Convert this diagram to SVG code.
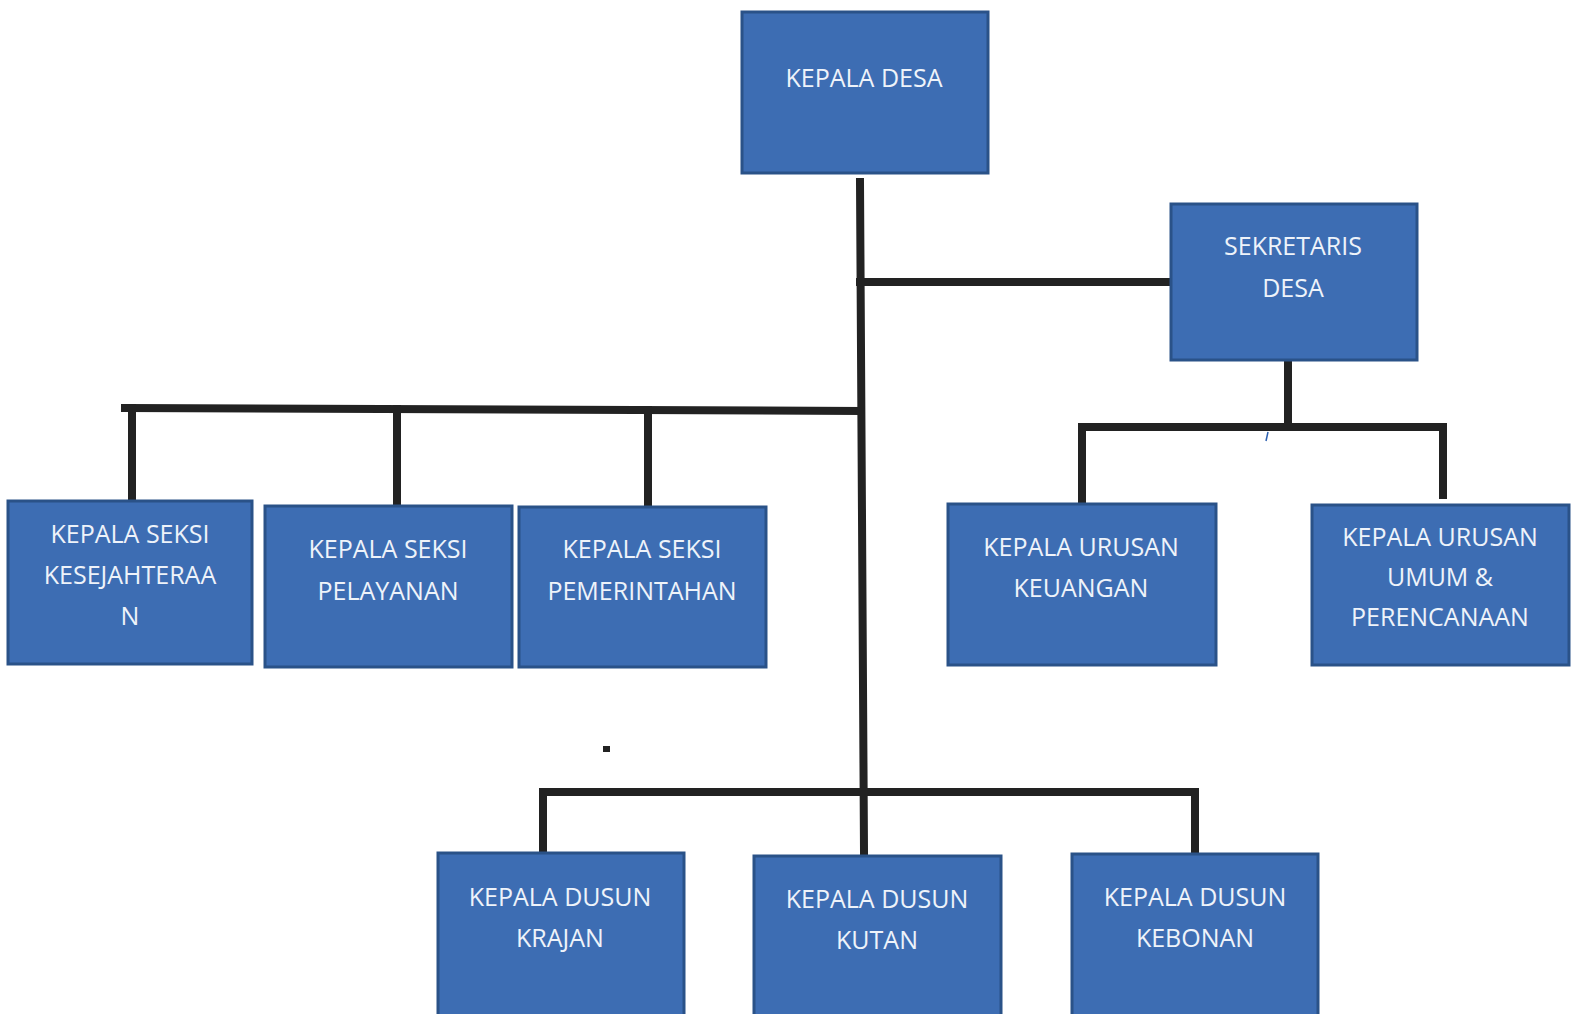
<svg xmlns="http://www.w3.org/2000/svg" width="1574" height="1014" viewBox="0 0 1574 1014">
<style>
.box{fill:#3d6db3;stroke:#2a5288;stroke-width:3}
.t{fill:#eef3fa;font-family:"Open Sans","Noto Sans",sans-serif;font-size:25px;text-anchor:middle}
.ln{stroke:#222;stroke-width:8;fill:none;stroke-linecap:square}
</style>
<rect width="1574" height="1014" fill="#ffffff"/>
<g id="connectors">
<polyline class="ln" points="860,182 864,852"/>
<line class="ln" x1="860" y1="282" x2="1174" y2="282"/>
<polyline class="ln" points="125,408 860,411"/>
<line class="ln" x1="132" y1="408" x2="132" y2="498"/>
<line class="ln" x1="397" y1="409" x2="397" y2="503"/>
<line class="ln" x1="648" y1="410" x2="648" y2="504"/>
<line class="ln" x1="1288" y1="362" x2="1288" y2="427"/>
<line class="ln" x1="1082" y1="427" x2="1443" y2="427"/>
<line class="ln" x1="1082" y1="427" x2="1082" y2="507"/>
<line class="ln" x1="1443" y1="427" x2="1443" y2="495"/>
<line class="ln" x1="543" y1="792" x2="1195" y2="792"/>
<line class="ln" x1="543" y1="792" x2="543" y2="850"/>
<line class="ln" x1="1195" y1="792" x2="1195" y2="850"/>
<line x1="1268" y1="432" x2="1266" y2="441" stroke="#2b5fb0" stroke-width="1.5"/>
<rect x="603" y="746" width="7" height="6" fill="#222"/>
</g>
<g id="kepala-desa"><rect class="box" x="742" y="12" width="246" height="161"/><text class="t" x="864" y="87">KEPALA DESA</text></g>
<g id="sekretaris-desa"><rect class="box" x="1171" y="204" width="246" height="156"/><text class="t" x="1293" y="255">SEKRETARIS</text><text class="t" x="1293" y="297">DESA</text></g>
<g id="kasi-kesejahteraan"><rect class="box" x="8" y="501" width="244" height="163"/><text class="t" x="130" y="543">KEPALA SEKSI</text><text class="t" x="130" y="584">KESEJAHTERAA</text><text class="t" x="130" y="625">N</text></g>
<g id="kasi-pelayanan"><rect class="box" x="265" y="506" width="247" height="161"/><text class="t" x="388" y="558">KEPALA SEKSI</text><text class="t" x="388" y="600">PELAYANAN</text></g>
<g id="kasi-pemerintahan"><rect class="box" x="519" y="507" width="247" height="160"/><text class="t" x="642" y="558">KEPALA SEKSI</text><text class="t" x="642" y="600">PEMERINTAHAN</text></g>
<g id="kaur-keuangan"><rect class="box" x="948" y="504" width="268" height="161"/><text class="t" x="1081" y="556">KEPALA URUSAN</text><text class="t" x="1081" y="597">KEUANGAN</text></g>
<g id="kaur-umum"><rect class="box" x="1312" y="505" width="257" height="160"/><text class="t" x="1440" y="546">KEPALA URUSAN</text><text class="t" x="1440" y="586">UMUM &amp;</text><text class="t" x="1440" y="626">PERENCANAAN</text></g>
<g id="kadus-krajan"><rect class="box" x="438" y="853" width="246" height="170"/><text class="t" x="560" y="906">KEPALA DUSUN</text><text class="t" x="560" y="947">KRAJAN</text></g>
<g id="kadus-kutan"><rect class="box" x="754" y="856" width="247" height="170"/><text class="t" x="877" y="908">KEPALA DUSUN</text><text class="t" x="877" y="949">KUTAN</text></g>
<g id="kadus-kebonan"><rect class="box" x="1072" y="854" width="246" height="170"/><text class="t" x="1195" y="906">KEPALA DUSUN</text><text class="t" x="1195" y="947">KEBONAN</text></g>
</svg>
